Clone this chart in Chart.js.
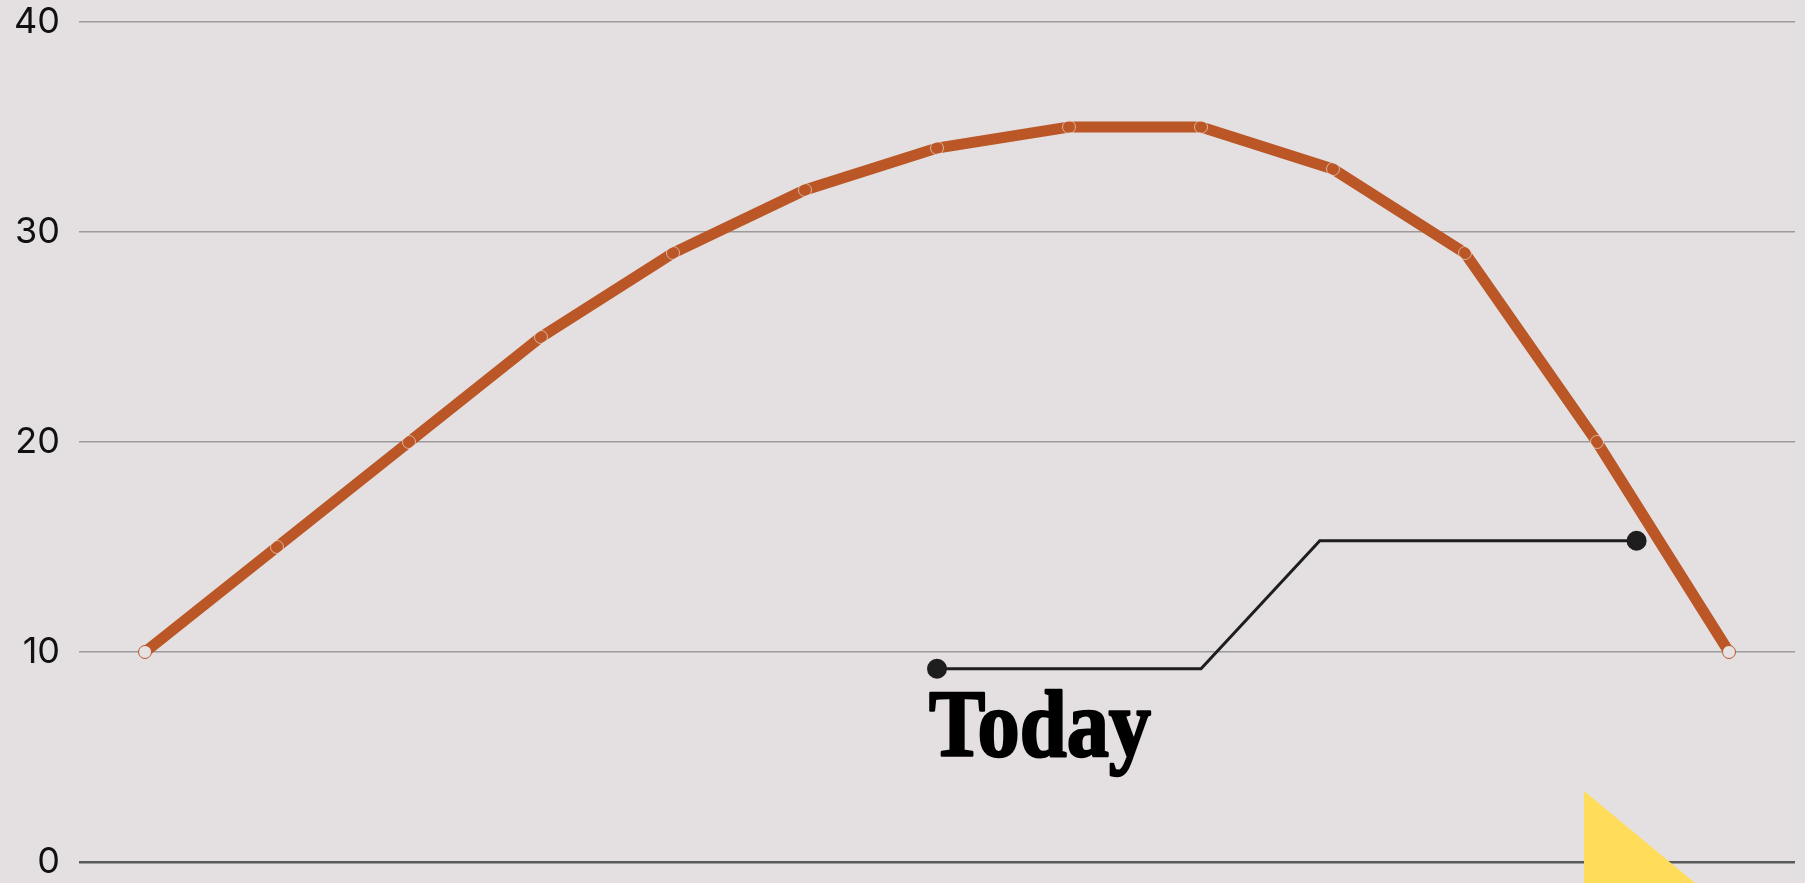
<!DOCTYPE html>
<html>
<head>
<meta charset="utf-8">
<script src="https://cdn.jsdelivr.net/npm/chart.js@4"></script>
<style>
  html, body { margin: 0; padding: 0; background: #e4e0e2; }
  #graph { display: block; }
</style>
</head>
<body>
<canvas id="graph" width="1805" height="883"></canvas>
<script>
var periods = ["1", "2", "3", "4", "5", "6", "7", "8", "9", "10", "11", "12", "13"];
var trendValues = [10, 15, 20, 25, 29, 32, 34, 35, 35, 33, 29, 20, 10];
var todayX = [6, 8, 8.9, 11.3];
var todayY = [9.2, 9.2, 15.3, 15.3];
var yTicks = [0, 10, 20, 30, 40];
var todayLabel = "Today";

var todayData = todayX.map(function (x, i) {
  return { x: x, y: todayY[i] };
});

function isEnd(ctx) {
  return ctx.dataIndex === 0 || ctx.dataIndex === trendValues.length - 1;
}

// background, "Today" caption and the yellow corner triangle
var decor = {
  id: "decor",
  beforeDraw: function (chart) {
    var c = chart.ctx;
    c.save();
    c.fillStyle = "#e4e0e2";
    c.fillRect(0, 0, chart.width, chart.height);
    c.restore();
  },
  afterDraw: function (chart) {
    var c = chart.ctx;
    var xs = chart.scales.x2;
    var ys = chart.scales.y;
    var area = chart.chartArea;
    var tx = xs.getPixelForValue(todayX[0]) - 8;
    var ty = ys.getPixelForValue(todayY[0]) + 87;

    c.save();
    c.fillStyle = "#000";
    c.strokeStyle = "#000";
    c.lineWidth = 2.5;
    c.lineJoin = "round";
    c.font = "bold 96px 'Liberation Serif', 'DejaVu Serif', serif";
    c.textBaseline = "alphabetic";
    c.textAlign = "left";
    c.fillText(todayLabel, tx, ty, 222);
    c.strokeText(todayLabel, tx, ty, 222);

    c.fillStyle = "#ffdc5a";
    c.beginPath();
    c.moveTo(area.right - 211, area.bottom - 71);
    c.lineTo(area.right - 211, chart.height);
    c.lineTo(area.right - 100, chart.height);
    c.closePath();
    c.fill();
    c.restore();
  }
};

var chart = new Chart(document.getElementById("graph").getContext("2d"), {
  type: "line",
  data: {
    labels: periods,
    datasets: [
      {
        label: "Trend",
        data: trendValues,
        borderColor: "#bb5726",
        borderWidth: 11,
        pointRadius: 6.5,
        pointBorderWidth: 1,
        pointBorderColor: function (ctx) {
          return isEnd(ctx) ? "#bb5726" : "rgba(235,215,205,0.7)";
        },
        pointBackgroundColor: function (ctx) {
          return isEnd(ctx) ? "#e6e2e4" : "rgba(0,0,0,0)";
        },
        tension: 0,
        order: 1
      },
      {
        label: "Today",
        type: "line",
        xAxisID: "x2",
        data: todayData,
        borderColor: "#1e1e1e",
        borderWidth: 3,
        pointRadius: [10, 0, 0, 10],
        pointBackgroundColor: "#1e1e1e",
        pointBorderWidth: 0,
        tension: 0,
        order: 2
      }
    ]
  },
  options: {
    responsive: false,
    animation: false,
    layout: {
      padding: { top: 22, bottom: 21, left: 0, right: 8 }
    },
    plugins: {
      legend: { display: false },
      tooltip: { enabled: false }
    },
    scales: {
      x: {
        type: "category",
        offset: true,
        display: false
      },
      x2: {
        type: "linear",
        min: -0.5,
        max: periods.length - 0.5,
        display: false
      },
      y: {
        min: 0,
        max: 40,
        afterBuildTicks: function (scale) {
          scale.ticks = yTicks.map(function (v) { return { value: v }; });
        },
        afterFit: function (scale) {
          scale.width = 79;
          scale.paddingTop = 0;
          scale.paddingBottom = 0;
        },
        border: { display: false },
        grid: {
          drawTicks: false,
          color: function (ctx) {
            return ctx.tick && ctx.tick.value === 0 ? "#5a5a5a" : "#9c9a9b";
          },
          lineWidth: function (ctx) {
            return ctx.tick && ctx.tick.value === 0 ? 2.5 : 1.5;
          }
        },
        ticks: {
          padding: 19,
          color: "#111",
          font: { family: "Inter", size: 36, weight: "400" }
        }
      }
    }
  },
  plugins: [decor]
});
</script>
</body>
</html>
